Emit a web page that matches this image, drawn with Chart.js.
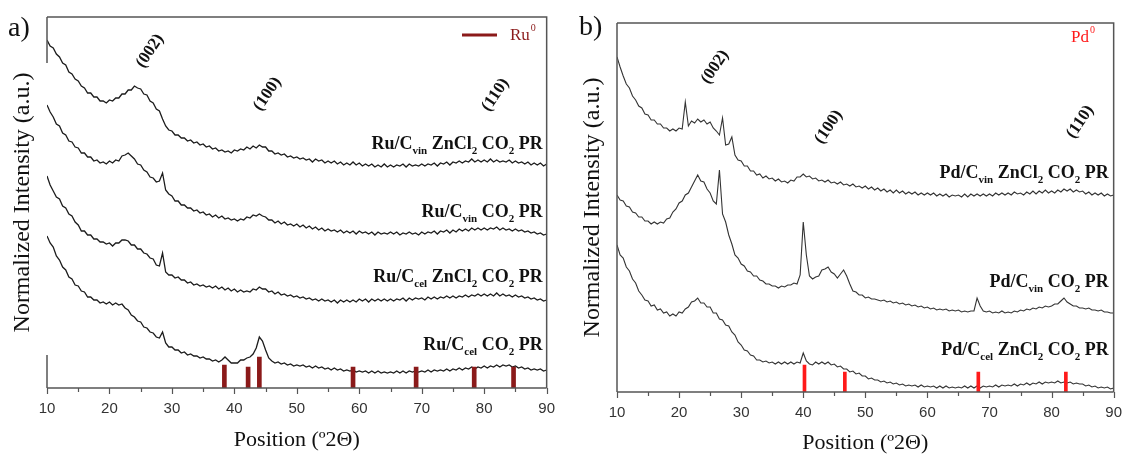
<!DOCTYPE html>
<html>
<head>
<meta charset="utf-8">
<title>XRD patterns</title>
<script src="https://cdn.jsdelivr.net/npm/chart.js@4.4.1/dist/chart.umd.min.js"></script>
<style>
  html, body { margin: 0; padding: 0; background: #fff; }
  #wrap { position: relative; width: 1134px; height: 456px; }
  .panel { position: absolute; top: 0; width: 567px; height: 456px; }
  #pa { left: 0; }
  #pb { left: 567px; }
</style>
</head>
<body>
<div id="wrap">
  <div class="panel" id="pa"><canvas id="chartA" width="567" height="456"></canvas></div>
  <div class="panel" id="pb"><canvas id="chartB" width="567" height="456"></canvas></div>
</div>
<script>
// Shared 2θ grid (degrees) for all patterns
const twoTheta = [
  10,10.5,11,11.5,12,12.5,13,13.5,14,14.5,
  15,15.5,16,16.5,17,17.5,18,18.5,19,19.5,
  20,20.5,21,21.5,22,22.5,23,23.5,24,24.5,
  25,25.5,26,26.5,27,27.5,28,28.5,29,29.5,
  30,30.5,31,31.5,32,32.5,33,33.5,34,34.5,
  35,35.5,36,36.5,37,37.5,38,38.5,39,39.5,
  40,40.5,41,41.5,42,42.5,43,43.5,44,44.5,
  45,45.5,46,46.5,47,47.5,48,48.5,49,49.5,
  50,50.5,51,51.5,52,52.5,53,53.5,54,54.5,
  55,55.5,56,56.5,57,57.5,58,58.5,59,59.5,
  60,60.5,61,61.5,62,62.5,63,63.5,64,64.5,
  65,65.5,66,66.5,67,67.5,68,68.5,69,69.5,
  70,70.5,71,71.5,72,72.5,73,73.5,74,74.5,
  75,75.5,76,76.5,77,77.5,78,78.5,79,79.5,
  80,80.5,81,81.5,82,82.5,83,83.5,84,84.5,
  85,85.5,86,86.5,87,87.5,88,88.5,89,89.5,
  90
];

// ---- Panel a: Ru catalysts (stacked, normalized intensity, a.u.) ----
const ruCvinZnCl2 = [
  348,342,340,334,331,325,323,316,314,309,
  307,302,300,295,295,291,291,287,287,285,
  288,287,290,290,294,294,298,298,302,300,
  299,294,293,287,285,279,277,269,262,258,
  257,253,253,250,250,247,248,245,246,243,
  244,241,242,239,240,237,238,236,237,235,
  238,237,239,238,241,239,242,240,243,241,
  241,237,237,234,235,233,234,231,232,230,
  231,229,230,228,229,226,229,227,228,225,
  227,225,227,224,226,223,225,223,226,223,
  225,222,224,222,224,221,223,221,224,221,
  223,221,223,222,224,221,224,222,223,222,
  224,222,224,223,225,222,225,224,226,223,
  226,225,227,225,227,226,229,226,228,226,
  228,226,229,226,228,226,227,226,228,225,
  227,225,226,224,226,223,225,223,225,222,
  224
];
const ruCvin = [
  283,276,271,264,262,255,253,247,246,241,
  240,235,235,231,231,227,228,225,226,224,
  227,225,228,227,232,233,235,232,229,224,
  223,218,216,211,210,206,207,215,198,194,
  192,187,187,183,183,180,180,177,178,175,
  176,173,174,171,173,170,172,169,170,168,
  169,167,169,168,171,170,173,172,174,172,
  171,168,168,165,167,164,166,163,164,162,
  164,161,163,160,162,159,161,158,160,157,
  159,157,158,156,158,155,157,155,157,154,
  157,155,156,154,156,153,156,154,155,154,
  156,154,156,153,155,154,156,154,155,153,
  156,154,156,155,157,154,157,156,158,155,
  158,156,159,157,159,157,160,158,160,158,
  160,158,160,159,161,158,160,158,159,157,
  159,157,158,156,157,155,156,154,155,153,
  154
];
const ruCcelZnCl2 = [
  212,203,197,191,189,182,180,174,172,166,
  163,157,157,153,153,149,149,146,146,144,
  145,142,145,145,148,148,147,143,143,139,
  139,135,134,130,129,123,122,135,116,113,
  113,110,111,108,108,105,106,103,104,102,
  103,101,102,100,102,99,101,98,100,97,
  99,96,98,96,97,96,99,98,101,99,
  99,96,97,94,96,93,94,92,93,91,
  92,90,91,89,90,88,89,87,89,87,
  88,86,88,85,88,86,88,86,88,86,
  89,87,89,86,89,87,89,87,89,87,
  89,87,89,88,90,87,90,88,90,89,
  90,88,91,89,91,89,91,90,92,90,
  92,90,92,91,93,91,93,92,94,92,
  94,92,94,92,95,92,94,92,93,91,
  93,91,92,90,91,89,90,88,89,87,
  88
];
const ruCcel = [
  152,145,141,132,128,121,118,111,109,103,
  102,97,96,91,91,88,88,85,86,84,
  86,83,85,83,84,80,78,73,71,67,
  66,61,60,56,55,51,50,56,45,41,
  41,38,38,35,36,33,34,32,32,30,
  31,29,29,27,28,26,28,31,28,25,
  25,25,28,28,30,31,34,40,51,47,
  38,30,27,25,26,24,25,23,24,22,
  23,22,23,21,22,20,22,20,21,19,
  20,18,20,18,19,17,18,17,18,16,
  17,16,17,15,17,15,17,15,16,15,
  16,15,17,15,17,15,17,16,17,16,
  17,16,18,16,18,17,18,17,19,17,
  19,18,20,18,20,19,21,19,21,20,
  22,20,22,21,23,21,23,22,23,21,
  22,20,21,19,20,18,19,18,19,17,
  18
];
// Ru reference reflections (2θ, stick height a.u.)
const ruRefPos = [38.4, 42.2, 44.0, 59.0, 69.1, 78.4, 84.7];
const ruRefInt = [23, 21, 31, 21, 21, 21, 21];

// ---- Panel b: Pd catalysts ----
const pdCvinZnCl2 = [
  335,325,316,308,304,296,292,286,284,278,
  277,272,272,268,268,264,264,261,263,261,
  264,263,290,266,271,269,273,270,272,268,
  270,264,261,257,274,247,248,255,237,232,
  231,226,226,221,221,217,218,214,216,213,
  214,211,213,210,211,209,212,211,215,215,
  218,215,216,213,214,211,212,210,212,209,
  210,208,210,207,208,206,208,205,206,204,
  206,203,205,202,204,201,203,200,202,199,
  202,199,201,198,200,198,200,197,199,197,
  199,197,199,196,198,196,198,195,197,196,
  197,195,198,195,198,196,198,196,198,196,
  198,196,199,197,199,197,199,197,200,198,
  199,197,200,198,201,198,201,199,202,199,
  201,199,202,200,203,201,203,200,202,200,
  201,198,200,197,199,197,199,196,198,196,
  197
];
const pdCvin = [
  197,192,191,186,185,180,179,175,175,171,
  171,168,170,168,170,169,173,174,180,183,
  189,191,197,199,205,211,217,211,210,203,
  199,191,188,222,178,170,157,148,137,134,
  128,126,121,120,116,116,112,111,108,108,
  106,106,104,106,105,107,107,109,108,117,
  170,137,116,113,115,116,122,123,125,120,
  118,114,118,122,116,108,101,100,97,97,
  94,95,93,93,92,91,92,90,91,89,
  90,88,89,87,88,86,87,85,86,84,
  85,83,84,82,83,82,83,81,82,81,
  82,80,81,80,81,81,94,86,81,80,
  81,79,80,79,81,79,80,79,81,80,
  82,81,83,82,84,83,85,84,86,85,
  86,88,88,91,94,90,88,86,86,84,
  84,83,84,82,82,81,82,80,80,79,
  79
];
const pdCcelZnCl2 = [
  147,137,134,125,121,113,109,101,97,92,
  91,86,87,82,83,79,80,76,78,76,
  80,79,83,85,90,91,94,89,89,85,
  85,79,79,73,72,67,66,60,57,50,
  47,42,41,37,36,32,32,30,31,29,
  30,28,30,28,30,28,30,28,30,29,
  39,31,28,27,30,28,30,28,30,27,
  28,25,26,23,23,20,21,18,19,16,
  16,13,14,12,12,10,11,9,10,8,
  9,7,8,6,7,6,7,5,7,5,
  6,5,6,4,6,4,6,4,5,4,
  5,4,6,4,6,4,6,4,6,5,
  6,5,7,5,7,6,7,6,8,6,
  8,7,9,7,9,8,10,8,10,9,
  10,9,11,9,10,9,10,8,9,8,
  8,6,7,5,6,4,5,4,5,3,
  4
];
// Pd reference reflections (2θ, stick height a.u.)
const pdRefPos = [40.2, 46.7, 68.2, 82.3];
const pdRefInt = [27, 20, 20, 20];

const xTickLabels = [10, 20, 30, 40, 50, 60, 70, 80, 90];

// ---- helpers ----
const SERIF = '"Liberation Serif", "Times New Roman", serif';
const SANS = '"Liberation Sans", Arial, sans-serif';

function points(ys) { return twoTheta.map((x, i) => ({ x, y: ys[i] })); }
function sticks(pos, h) { return pos.map((x, i) => ({ x, y: h[i] })); }

// split "Ru/C_{vin} CO_{2} PR" into normal / subscript runs
function parseRuns(s) {
  const runs = []; const re = /_\{([^}]*)\}/g; let last = 0, m;
  while ((m = re.exec(s))) {
    if (m.index > last) runs.push({ t: s.slice(last, m.index), sub: false });
    runs.push({ t: m[1], sub: true }); last = re.lastIndex;
  }
  if (last < s.length) runs.push({ t: s.slice(last), sub: false });
  return runs;
}

const decorPlugin = {
  id: 'decor',
  afterDraw(chart, _args, o) {
    const { ctx, chartArea: a, scales: { x, y } } = chart;
    ctx.save();
    // outward tick marks: long on labelled values, short in between
    ctx.strokeStyle = o.frameColor; ctx.lineWidth = 1.2;
    x.ticks.forEach(t => {
      const px = Math.round(x.getPixelForValue(t.value)) + 0.5;
      const len = xTickLabels.includes(t.value) ? 6 : 4;
      ctx.beginPath(); ctx.moveTo(px, a.bottom); ctx.lineTo(px, a.bottom + len); ctx.stroke();
    });
    // frame
    ctx.lineWidth = o.frameWidth;
    ctx.beginPath();
    ctx.moveTo(a.left, a.bottom); ctx.lineTo(a.right, a.bottom);
    ctx.moveTo(a.left, a.top); ctx.lineTo(a.right, a.top); ctx.lineTo(a.right, a.bottom);
    (o.leftSegments || [[y.max, y.min]]).forEach(([hi, lo]) => {
      ctx.moveTo(a.left, y.getPixelForValue(hi)); ctx.lineTo(a.left, y.getPixelForValue(lo));
    });
    ctx.stroke();

    // sample names, right aligned, with subscripts
    (o.names || []).forEach(n => {
      const runs = parseRuns(n.text);
      const main = `bold ${o.nameSize}px ${SERIF}`, sub = `bold ${o.subSize}px ${SERIF}`;
      let total = 0;
      const w = runs.map(r => { ctx.font = r.sub ? sub : main; const v = ctx.measureText(r.t).width; total += v; return v; });
      let px = a.right - o.nameInset - total;
      const base = y.getPixelForValue(n.y) + o.nameSize * 0.33;
      ctx.fillStyle = '#111'; ctx.textAlign = 'left'; ctx.textBaseline = 'alphabetic';
      runs.forEach((r, i) => {
        ctx.font = r.sub ? sub : main;
        ctx.fillText(r.t, px, base + (r.sub ? o.subSize * 0.45 : 0));
        px += w[i];
      });
    });

    // Miller indices of the carbon reflections (rotated)
    (o.hkl || []).forEach(h => {
      ctx.save();
      ctx.translate(x.getPixelForValue(h.x), y.getPixelForValue(h.y));
      ctx.rotate(-56 * Math.PI / 180);
      ctx.font = `bold ${o.hklSize}px ${SERIF}`; ctx.fillStyle = '#111';
      ctx.textAlign = 'center'; ctx.textBaseline = 'middle';
      ctx.fillText(h.text, 0, 0);
      ctx.restore();
    });

    // phase key
    if (o.key) {
      const k = o.key;
      ctx.fillStyle = k.color; ctx.strokeStyle = k.color;
      if (k.line) {
        ctx.lineWidth = 3;
        ctx.beginPath(); ctx.moveTo(k.lineFrom, k.y); ctx.lineTo(k.lineTo, k.y); ctx.stroke();
      }
      ctx.font = `${k.size}px ${SERIF}`; ctx.textAlign = 'left'; ctx.textBaseline = 'middle';
      ctx.fillText(k.text, k.textX, k.y + 1);
      const tw = ctx.measureText(k.text).width;
      ctx.font = `${Math.round(k.size * 0.6)}px ${SERIF}`;
      ctx.fillText(k.sup, k.textX + tw + 1, k.y - k.size * 0.38);
    }

    // panel tag
    if (o.tag) {
      ctx.font = `${o.tag.size}px ${SERIF}`; ctx.fillStyle = '#111';
      ctx.textAlign = 'left'; ctx.textBaseline = 'middle';
      ctx.fillText(o.tag.text, o.tag.x, o.tag.y);
    }
    ctx.restore();
  }
};

function buildChart(id, cfg) {
  return new Chart(document.getElementById(id), {
    type: 'line',
    data: {
      datasets: [
        {
          type: 'bar', label: cfg.refLabel, data: sticks(cfg.refPos, cfg.refInt),
          backgroundColor: cfg.refColor, barThickness: cfg.refWidth, order: 0
        },
        ...cfg.series.map(s => ({
          label: s.label, data: points(s.data), borderColor: cfg.lineColor,
          borderWidth: cfg.lineWidth, pointRadius: 0, tension: 0, fill: false, order: 1
        }))
      ]
    },
    options: {
      responsive: false, animation: false, events: [],
      layout: { padding: { left: 0, right: cfg.padRight, top: cfg.padTop, bottom: cfg.padBottom } },
      plugins: { legend: { display: false }, tooltip: { enabled: false }, decor: cfg.decor },
      scales: {
        x: {
          type: 'linear', min: 10, max: 90, offset: false,
          grid: { display: false, drawTicks: false },
          border: { display: false },
          ticks: {
            stepSize: 5, autoSkip: false, maxRotation: 0, padding: 12,
            color: '#333', font: { family: SANS, size: 15 },
            callback: v => (xTickLabels.includes(v) ? String(v) : '')
          },
          title: {
            display: true, text: 'Position (º2Θ)', color: '#111',
            font: { family: SERIF, size: 22 }, padding: { top: 0, bottom: 0 }
          },
          afterFit: s => { s.height = cfg.xHeight; }
        },
        y: {
          min: 0, max: cfg.yMax,
          grid: { display: false }, border: { display: false },
          ticks: { display: false },
          title: {
            display: true, text: 'Normalized Intensity (a.u.)', color: '#111',
            font: { family: SERIF, size: 24 }, padding: { top: cfg.yTitlePad, bottom: 0 }
          },
          afterFit: s => { s.width = cfg.yWidth; }
        }
      }
    },
    plugins: [decorPlugin]
  });
}

buildChart('chartA', {
  refLabel: 'Ru⁰', refPos: ruRefPos, refInt: ruRefInt, refColor: '#8b1a1a', refWidth: 4,
  lineColor: '#1c1c1c', lineWidth: 1.3,
  series: [
    { label: 'Ru/Cvin ZnCl2 CO2 PR', data: ruCvinZnCl2 },
    { label: 'Ru/Cvin CO2 PR', data: ruCvin },
    { label: 'Ru/Ccel ZnCl2 CO2 PR', data: ruCcelZnCl2 },
    { label: 'Ru/Ccel CO2 PR', data: ruCcel }
  ],
  padRight: 13, padTop: 17, padBottom: 3, xHeight: 65, yMax: 371, yWidth: 47, yTitlePad: 8,
  decor: {
    frameColor: '#555', frameWidth: 1.5,
    leftSegments: [[371, 325], [33, 0]],
    nameSize: 18, subSize: 11, nameInset: 4,
    names: [
      { text: 'Ru/C_{vin} ZnCl_{2} CO_{2} PR', y: 245 },
      { text: 'Ru/C_{vin} CO_{2} PR', y: 177 },
      { text: 'Ru/C_{cel} ZnCl_{2} CO_{2} PR', y: 112 },
      { text: 'Ru/C_{cel} CO_{2} PR', y: 44 }
    ],
    hklSize: 17,
    hkl: [
      { text: '(002)', x: 26.5, y: 337 },
      { text: '(100)', x: 45.3, y: 294 },
      { text: '(110)', x: 81.8, y: 293 }
    ],
    key: { line: true, lineFrom: 462, lineTo: 497, y: 35, textX: 510, text: 'Ru', sup: '0', color: '#8b1a1a', size: 17 },
    tag: { text: 'a)', x: 8, y: 29, size: 28 }
  }
});

buildChart('chartB', {
  refLabel: 'Pd⁰', refPos: pdRefPos, refInt: pdRefInt, refColor: '#ff1a1a', refWidth: 3,
  lineColor: '#333', lineWidth: 1.1,
  series: [
    { label: 'Pd/Cvin ZnCl2 CO2 PR', data: pdCvinZnCl2 },
    { label: 'Pd/Cvin CO2 PR', data: pdCvin },
    { label: 'Pd/Ccel ZnCl2 CO2 PR', data: pdCcelZnCl2 }
  ],
  padRight: 11, padTop: 23, padBottom: 0, xHeight: 64, yMax: 369, yWidth: 50, yTitlePad: 11,
  decor: {
    frameColor: '#555', frameWidth: 1.5,
    nameSize: 18, subSize: 11, nameInset: 5,
    names: [
      { text: 'Pd/C_{vin} ZnCl_{2} CO_{2} PR', y: 220 },
      { text: 'Pd/C_{vin} CO_{2} PR', y: 111 },
      { text: 'Pd/C_{cel} ZnCl_{2} CO_{2} PR', y: 43 }
    ],
    hklSize: 17,
    hkl: [
      { text: '(002)', x: 25.8, y: 325 },
      { text: '(100)', x: 44.1, y: 265 },
      { text: '(110)', x: 84.6, y: 270 }
    ],
    key: { line: false, y: 37, textX: 504, text: 'Pd', sup: '0', color: '#ff1a1a', size: 17 },
    tag: { text: 'b)', x: 12, y: 28, size: 28 }
  }
});
</script>
</body>
</html>
